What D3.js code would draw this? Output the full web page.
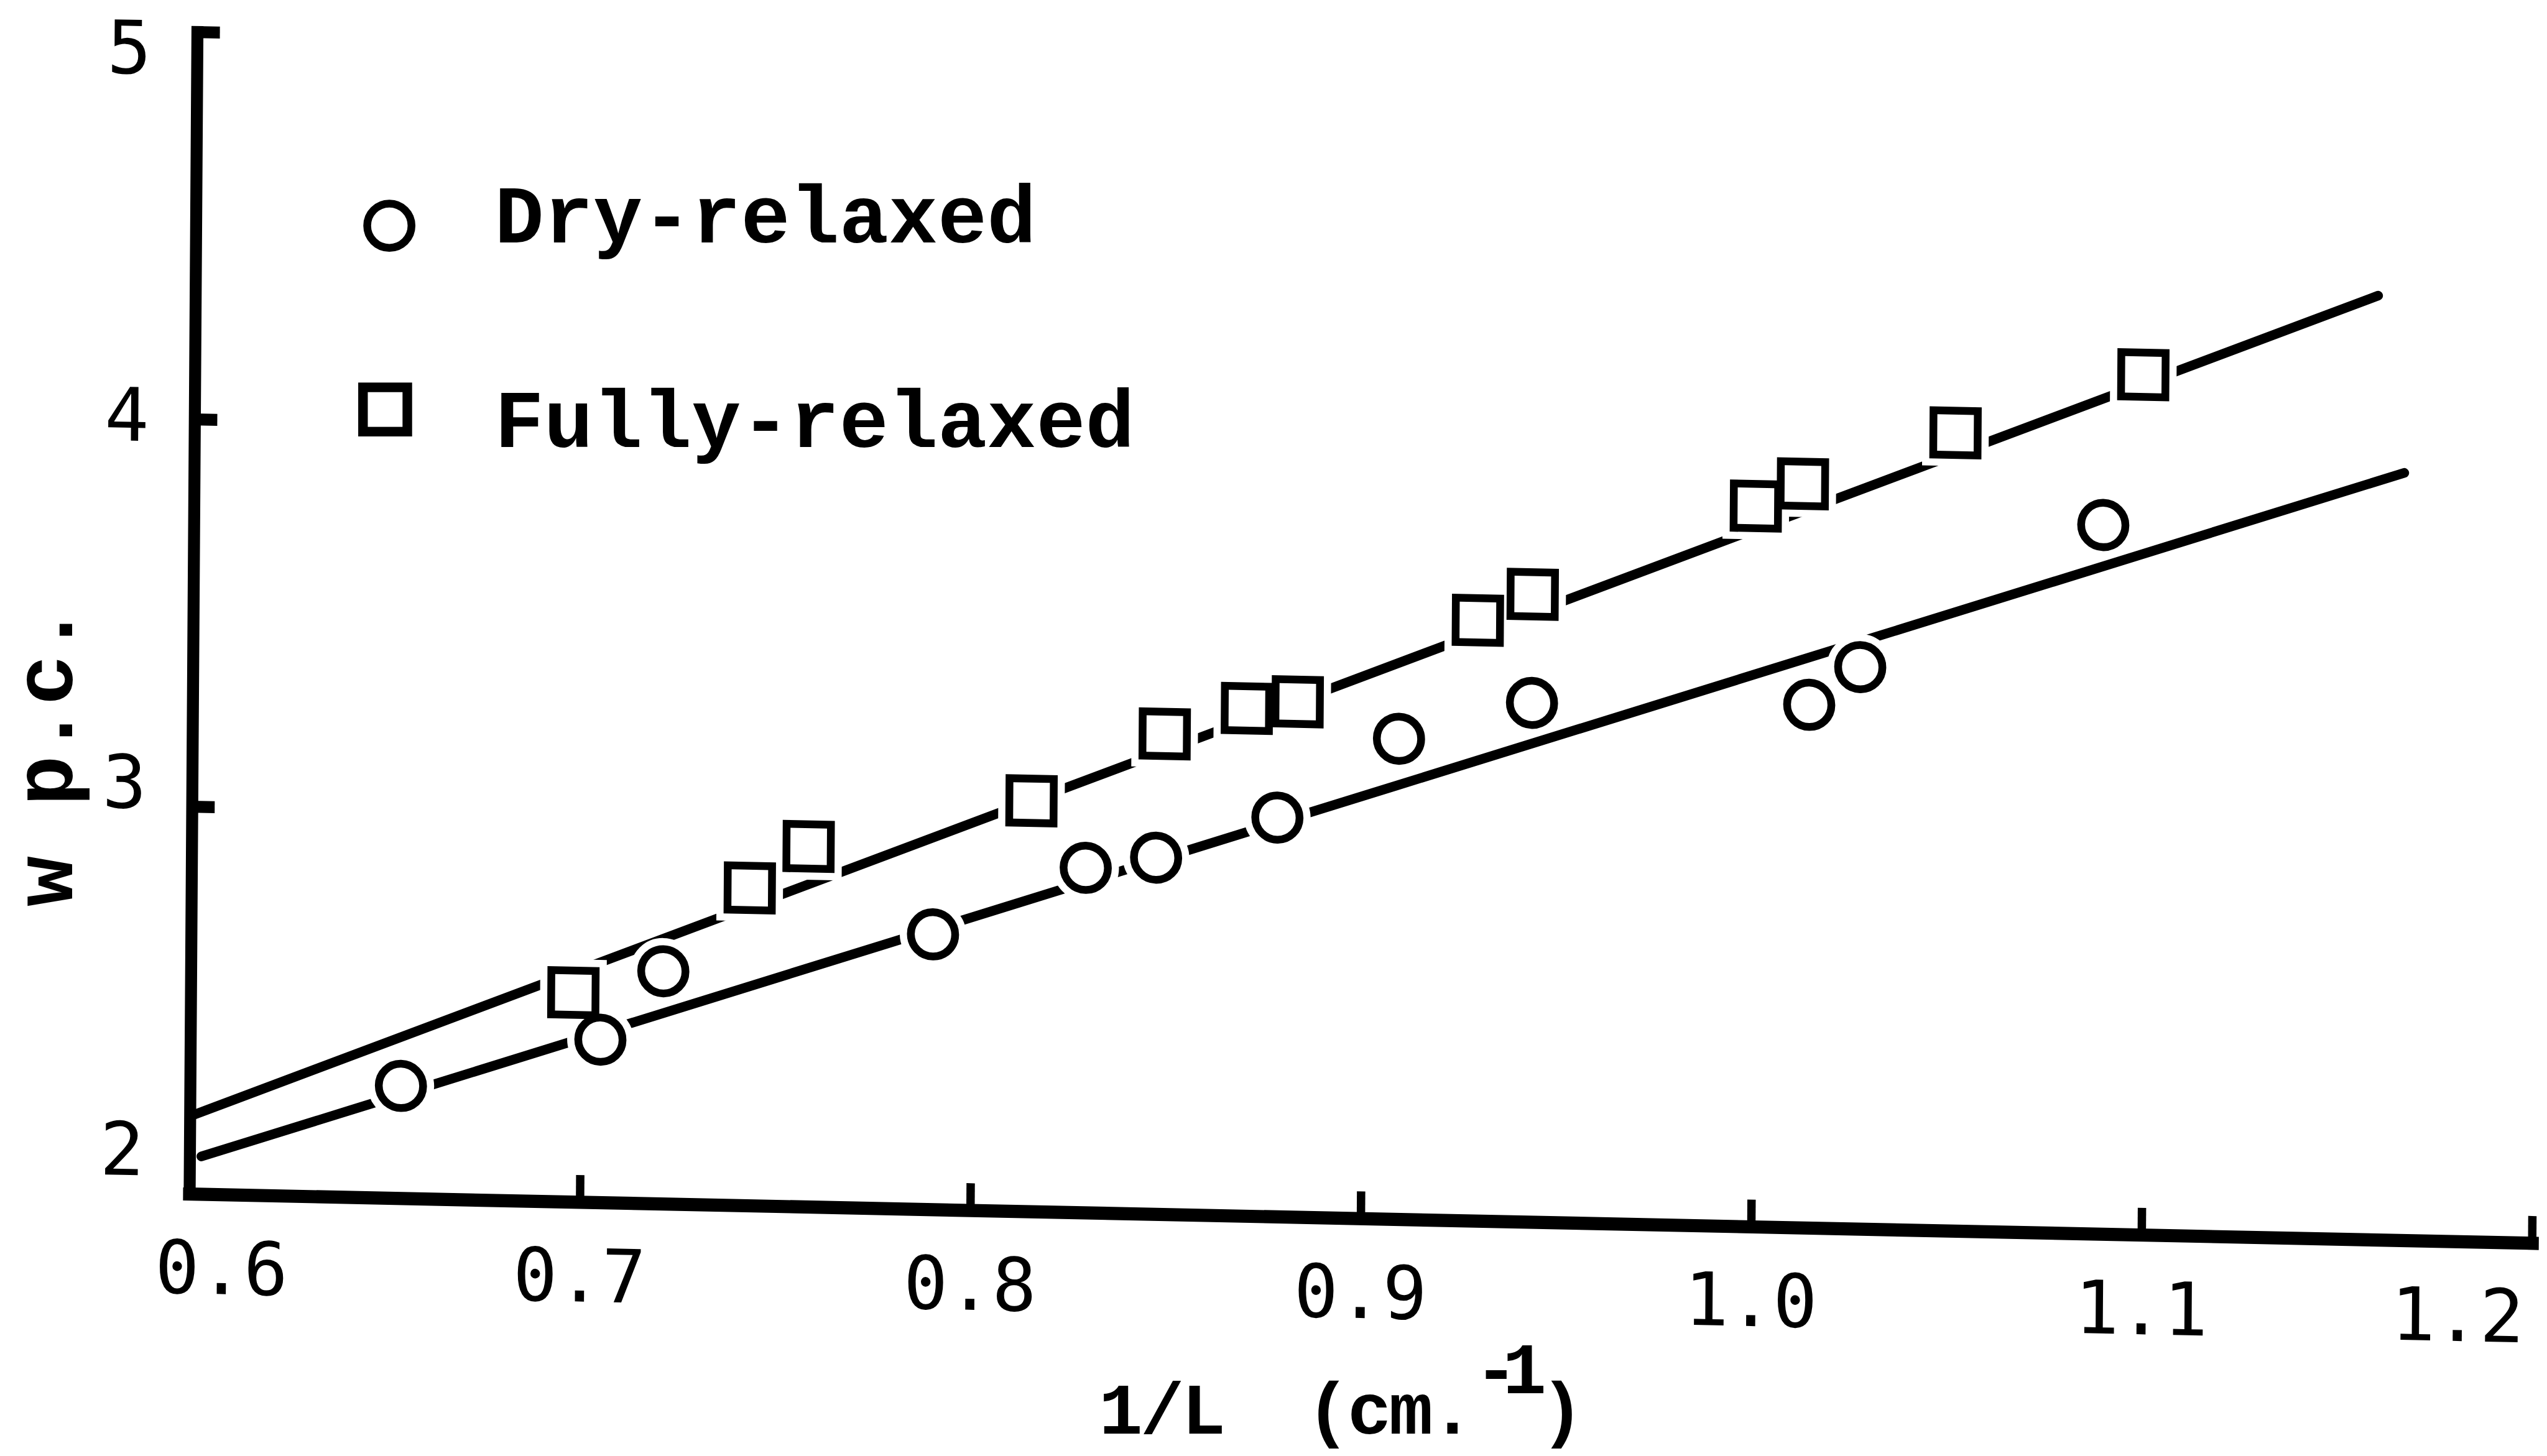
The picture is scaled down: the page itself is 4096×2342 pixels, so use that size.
<!DOCTYPE html>
<html>
<head>
<meta charset="utf-8">
<script src="https://cdn.jsdelivr.net/npm/d3@7"></script>
<style>
  html, body { margin: 0; padding: 0; background: #ffffff; }
  svg { display: block; }
</style>
</head>
<body>
<script>
// ---------------- data ----------------
const xTicks = [0.6, 0.7, 0.8, 0.9, 1.0, 1.1, 1.2];
const xTickLabels = ["0.6", "0.7", "0.8", "0.9", "1.0", "1.1", "1.2"];
const yTicks = [2, 3, 4, 5];
const yTickLabels = ["2", "3", "4", "5"];

const seriesNames = ["Dry-relaxed", "Fully-relaxed"];

const dryX = [0.654, 0.705, 0.721, 0.790, 0.829, 0.847, 0.878, 0.909, 0.943, 1.014, 1.027, 1.089];
const dryY = [2.29, 2.42, 2.60, 2.71, 2.89, 2.92, 3.03, 3.24, 3.34, 3.35, 3.45, 3.83];

const fullyX = [0.698, 0.743, 0.758, 0.815, 0.849, 0.870, 0.883, 0.929, 0.943, 1.000, 1.012, 1.051, 1.099];
const fullyY = [2.54, 2.82, 2.93, 3.06, 3.24, 3.31, 3.33, 3.55, 3.62, 3.86, 3.92, 4.06, 4.22];

// fitted straight lines: [x, y] endpoints
const dryFit = [[0.603, 2.097], [1.166, 3.981]];
const fullyFit = [[0.600, 2.200], [1.159, 4.437]];

// ---------------- drawing ----------------
const TEXT_FONT = "'Liberation Mono', 'Courier New', monospace";
const TICK_FONT = "'DejaVu Sans Mono', 'Liberation Mono', monospace";

const svg = d3.select("body").append("svg")
  .attr("width", 4096).attr("height", 2342)
  .attr("viewBox", "0 0 4253 2432");

svg.append("rect").attr("width", 4253).attr("height", 2432).attr("fill", "#fff");

const W = 3912, H = 1941;
const x = d3.scaleLinear().domain([0.6, 1.2]).range([0, W]);
const y = d3.scaleLinear().domain([2, 5]).range([H, 0]);
// the printed tick numbers sit on a slightly different vertical spacing
const yLab = d3.scaleLinear().domain([2, 5]).range([1867, 27]);

// the scanned frame is slightly sheared
const g = svg.append("g").attr("transform", "matrix(1,0.021,-0.0067,1,329,53)");

// x axis
const xAxis = d3.axisBottom(x)
  .tickValues(xTicks)
  .tickFormat((d, i) => xTickLabels[i])
  .tickSizeInner(-45).tickSizeOuter(0).tickPadding(0);
const gx = g.append("g").attr("transform", `translate(0,${H})`).call(xAxis);
gx.select(".domain").attr("stroke", "#000").attr("stroke-width", 22).attr("stroke-linecap", "square");
gx.selectAll(".tick line").attr("stroke", "#000").attr("stroke-width", 14);
gx.selectAll(".tick text")
  .attr("y", 122).attr("dy", "0.36em")
  .attr("dx", (d, i) => i === 0 ? 54 : (i === xTicks.length - 1 ? -124 : 0))
  .attr("fill", "#000")
  .attr("font-family", TICK_FONT).attr("font-size", 123).attr("font-weight", "normal");

// y axis
const yAxis = d3.axisLeft(y)
  .tickValues(yTicks)
  .tickFormat((d, i) => yTickLabels[i])
  .tickSizeInner(-38).tickSizeOuter(0).tickPadding(76);
const gy = g.append("g").call(yAxis);
gy.select(".domain").attr("stroke", "#000").attr("stroke-width", 20).attr("stroke-linecap", "square");
gy.selectAll(".tick line").attr("stroke", "#000").attr("stroke-width", 20);
gy.selectAll(".tick text")
  .attr("y", d => yLab(d) - y(d)).attr("dy", "0.36em")
  .attr("fill", "#000")
  .attr("font-family", TICK_FONT).attr("font-size", 123).attr("font-weight", "normal");

// fitted lines
[dryFit, fullyFit].forEach(fit => {
  g.append("line")
    .attr("x1", x(fit[0][0])).attr("y1", y(fit[0][1]))
    .attr("x2", x(fit[1][0])).attr("y2", y(fit[1][1]))
    .attr("stroke", "#000").attr("stroke-width", 16).attr("stroke-linecap", "round");
});

const dry = dryX.map((v, i) => ({ x: v, y: dryY[i] }));
const fully = fullyX.map((v, i) => ({ x: v, y: fullyY[i] }));

const R = 37, S = 74, SW = 13, HALO = SW + 24;

// white halos (break the lines around the symbols)
g.selectAll(".haloC").data(dry).join("circle")
  .attr("cx", d => x(d.x)).attr("cy", d => y(d.y)).attr("r", R)
  .attr("fill", "#fff").attr("stroke", "#fff").attr("stroke-width", HALO);
g.selectAll(".haloS").data(fully).join("rect")
  .attr("x", d => x(d.x) - S / 2).attr("y", d => y(d.y) - S / 2)
  .attr("width", S).attr("height", S)
  .attr("fill", "#fff").attr("stroke", "#fff").attr("stroke-width", HALO);

// symbols
g.selectAll(".dry").data(dry).join("circle").attr("class", "dry")
  .attr("cx", d => x(d.x)).attr("cy", d => y(d.y)).attr("r", R)
  .attr("fill", "#fff").attr("stroke", "#000").attr("stroke-width", SW);
g.selectAll(".fully").data(fully).join("rect").attr("class", "fully")
  .attr("x", d => x(d.x) - S / 2).attr("y", d => y(d.y) - S / 2)
  .attr("width", S).attr("height", S)
  .attr("fill", "#fff").attr("stroke", "#000").attr("stroke-width", SW);

// legend
svg.append("circle").attr("cx", 650).attr("cy", 377).attr("r", R)
  .attr("fill", "#fff").attr("stroke", "#000").attr("stroke-width", SW);
svg.append("text").attr("x", 826).attr("y", 405).text(seriesNames[0])
  .attr("font-family", TEXT_FONT).attr("font-size", 137).attr("font-weight", "bold").attr("fill", "#000");
svg.append("rect").attr("x", 643 - S / 2).attr("y", 684 - S / 2).attr("width", S).attr("height", S)
  .attr("fill", "#fff").attr("stroke", "#000").attr("stroke-width", 16);
svg.append("text").attr("x", 826).attr("y", 747).text(seriesNames[1])
  .attr("font-family", TEXT_FONT).attr("font-size", 137).attr("font-weight", "bold").attr("fill", "#000");

// x axis title (one text element, superscript as a tspan)
const xt = svg.append("text").attr("x", 1835).attr("y", 2395)
  .attr("font-family", TEXT_FONT).attr("font-size", 122).attr("font-weight", "bold").attr("fill", "#000");
xt.append("tspan").attr("letter-spacing", -4).text("1/L\u00A0 (cm.");
xt.append("tspan").attr("x", 2462).attr("dy", -68).attr("letter-spacing", -26).text("-1");
xt.append("tspan").attr("x", 2572).attr("dy", 68).text(")");

svg.append("text")
  .attr("transform", "translate(120,1262) rotate(-90)")
  .attr("text-anchor", "middle")
  .text("w p.c.")
  .attr("font-family", TEXT_FONT).attr("font-size", 140).attr("font-weight", "bold").attr("fill", "#000");
</script>
</body>
</html>
